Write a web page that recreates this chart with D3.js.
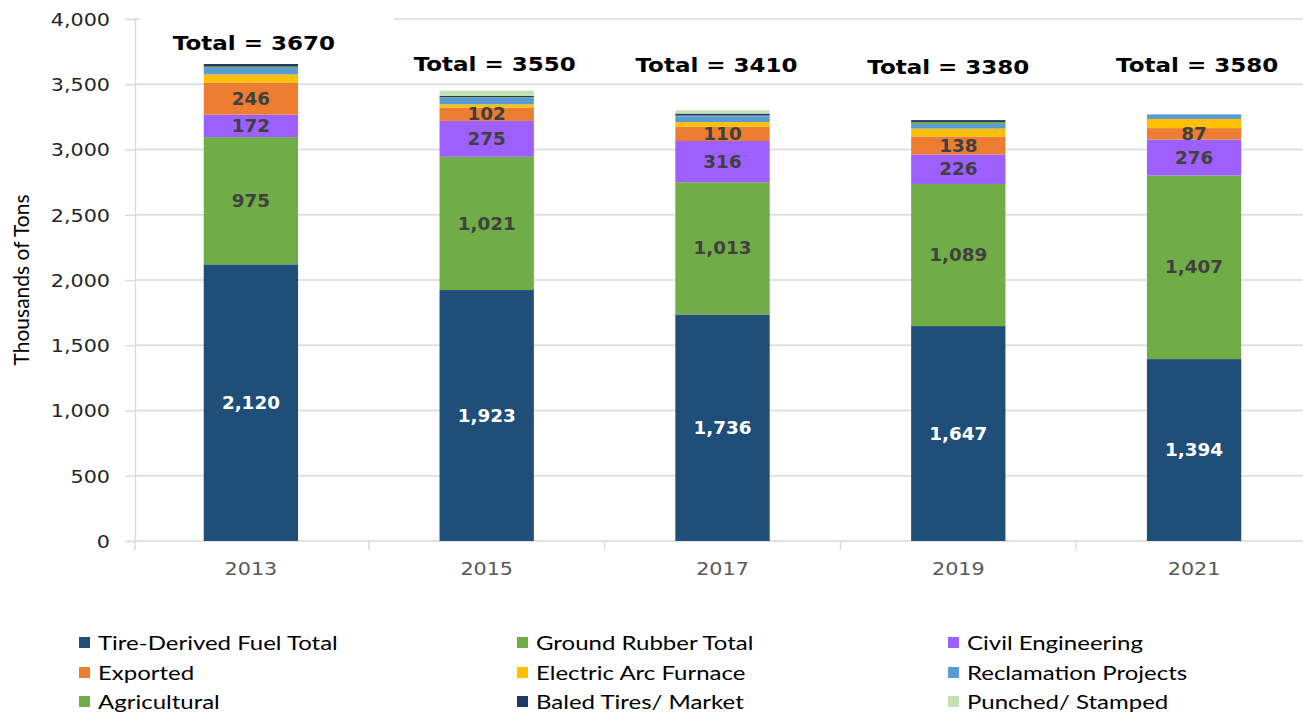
<!doctype html>
<html>
<head>
<meta charset="utf-8">
<script src="https://cdn.jsdelivr.net/npm/d3@7/dist/d3.min.js"></script>
<style>
  body { margin: 0; background: #fff; }
  svg { display: block; }
</style>
</head>
<body>
<svg id="chart" width="1303" height="716"></svg>
<script>
// data
const years = ["2013", "2015", "2017", "2019", "2021"];
const tireDerivedFuel = [2120, 1923, 1736, 1647, 1394];
const groundRubber = [975, 1021, 1013, 1089, 1407];
const civilEngineering = [172, 275, 316, 226, 276];
const exported = [246, 102, 110, 138, 87];
const electricArcFurnace = [62, 25, 35, 60, 70];
const reclamationProjects = [50, 50, 45, 35, 35];
const agricultural = [10, 5, 5, 15, 0];
const baledTires = [20, 10, 15, 15, 0];
const punchedStamped = [0, 40, 25, 0, 0];
const totals = [3670, 3550, 3410, 3380, 3580];
const yTicks = [0, 500, 1000, 1500, 2000, 2500, 3000, 3500, 4000];

const series = [
  { name: "Tire-Derived Fuel Total", values: tireDerivedFuel, color: "#1F4E79", label: "#ffffff" },
  { name: "Ground Rubber Total", values: groundRubber, color: "#70AD47", label: "#404040" },
  { name: "Civil Engineering", values: civilEngineering, color: "#9D5FFD", label: "#404040" },
  { name: "Exported", values: exported, color: "#ED7D31", label: "#404040" },
  { name: "Electric Arc Furnace", values: electricArcFurnace, color: "#FFC000" },
  { name: "Reclamation Projects", values: reclamationProjects, color: "#5B9BD5" },
  { name: "Agricultural", values: agricultural, color: "#70AD47" },
  { name: "Baled Tires/ Market", values: baledTires, color: "#203864" },
  { name: "Punched/ Stamped", values: punchedStamped, color: "#C5E0B4" }
];

// where the "Total =" notes sit (value units / px nudge)
const totalLabelAt = [3816, 3655, 3648, 3632, 3648];
const totalLabelDx = [3, 8, -6, -10, 3];

const SX = 1.15; // the source picture is stretched sideways a bit
const svg = d3.select("#chart");

const rows = years.map((y, i) => {
  const r = { year: y };
  series.forEach(s => r[s.name] = s.values[i]);
  return r;
});
const stacked = d3.stack().keys(series.map(s => s.name))(rows);

const x = d3.scaleBand().domain(years).range([133, 1312]).paddingInner(0.6).paddingOuter(0.3);
const y = d3.scaleLinear().domain([0, 4000]).range([541, 19]);

function put(sel, px, py, sx) {
  return sel.attr("transform", `translate(${px},${py}) scale(${sx || SX},1)`);
}

// gridlines
svg.append("g").selectAll("line")
  .data(yTicks.filter(d => d > 0))
  .join("line")
    .attr("x1", 135).attr("x2", 1303)
    .attr("y1", d => y(d)).attr("y2", d => y(d))
    .attr("stroke", "#D9D9D9").attr("stroke-width", 1.3);

// y axis
const yAxis = svg.append("g").attr("transform", "translate(135,0)")
  .call(d3.axisLeft(y).tickValues(yTicks).tickSize(10).tickPadding(14).tickFormat(d3.format(",")));
yAxis.select(".domain").attr("stroke", "#D9D9D9").attr("stroke-width", 1.3);
yAxis.selectAll(".tick line").attr("stroke", "#D9D9D9").attr("stroke-width", 1.3);
yAxis.selectAll(".tick text")
  .attr("font-family", "DejaVu Sans").attr("font-size", 18).attr("fill", "#262626")
  .attr("x", null).attr("dy", "0.35em")
  .each(function () {
    d3.select(this).attr("transform", `translate(-25,0) scale(${SX},1)`);
  });

// x axis: line, boundary ticks, year labels
svg.append("line").attr("x1", 135).attr("x2", 1303).attr("y1", y(0)).attr("y2", y(0))
  .attr("stroke", "#D9D9D9").attr("stroke-width", 1.3);
svg.append("g").selectAll("line")
  .data(years.map((d, i) => x.range()[0] + i * x.step()))
  .join("line")
    .attr("x1", d => Math.max(d, 135)).attr("x2", d => Math.max(d, 135))
    .attr("y1", y(0)).attr("y2", y(0) + 9)
    .attr("stroke", "#D9D9D9").attr("stroke-width", 1.3);
svg.append("g").selectAll("text")
  .data(years)
  .join("text")
    .each(function (d) { put(d3.select(this), x(d) + x.bandwidth() / 2, 575); })
    .attr("text-anchor", "middle")
    .attr("font-family", "DejaVu Sans").attr("font-size", 18).attr("fill", "#595959")
    .text(d => d);

// y title
svg.append("text")
  .attr("transform", "translate(29,280) rotate(-90)")
  .attr("text-anchor", "middle")
  .attr("font-family", "Lato").attr("font-size", 21).attr("fill", "#000")
  .text("Thousands of Tons");

// stacked bars
const layers = svg.append("g").selectAll("g")
  .data(stacked)
  .join("g")
    .attr("fill", (d, i) => series[i].color);
layers.selectAll("rect")
  .data(d => d)
  .join("rect")
    .attr("x", d => x(d.data.year))
    .attr("width", x.bandwidth())
    .attr("y", d => y(d[1]))
    .attr("height", d => y(d[0]) - y(d[1]));

// value labels on the four big segments
stacked.forEach((layer, i) => {
  const s = series[i];
  if (!s.label) return;
  svg.append("g").selectAll("text")
    .data(layer)
    .join("text")
      .each(function (d) {
        put(d3.select(this), x(d.data.year) + x.bandwidth() / 2, (y(d[0]) + y(d[1])) / 2, 1.08);
      })
      .attr("text-anchor", "middle").attr("dy", "0.36em")
      .attr("font-family", "DejaVu Sans").attr("font-weight", "bold").attr("font-size", 17)
      .attr("fill", s.label)
      .text(d => d3.format(",")(d[1] - d[0]));
});

// totals above bars
const totalG = svg.append("g");
totalG.append("rect")
  .attr("x", x(years[0]) + x.bandwidth() / 2 + totalLabelDx[0] - 114)
  .attr("y", y(totalLabelAt[0]) - 27)
  .attr("width", 254).attr("height", 44)
  .attr("fill", "#fff");
totalG.selectAll("text")
  .data(years)
  .join("text")
    .each(function (d, i) {
      put(d3.select(this), x(d) + x.bandwidth() / 2 + totalLabelDx[i], y(totalLabelAt[i]));
    })
    .attr("text-anchor", "middle").attr("dy", "0.36em")
    .attr("font-family", "DejaVu Sans").attr("font-weight", "bold").attr("font-size", 20)
    .attr("fill", "#000")
    .text((d, i) => `Total = ${totals[i]}`);

// legend, three columns
const colX = [79, 517, 948];
const rowY = [643, 673, 702];
const legend = svg.append("g").selectAll("g")
  .data(series)
  .join("g")
    .attr("transform", (d, i) => `translate(${colX[i % 3]},${rowY[Math.floor(i / 3)]})`);
legend.append("rect")
  .attr("x", 0).attr("y", -6).attr("width", 11).attr("height", 11)
  .attr("fill", d => d.color);
legend.append("text")
  .attr("transform", `translate(19,0) scale(1.2,1)`)
  .attr("dy", "0.35em")
  .attr("font-family", "Lato").attr("font-size", 20).attr("fill", "#000")
  .text(d => d.name);
</script>
</body>
</html>
